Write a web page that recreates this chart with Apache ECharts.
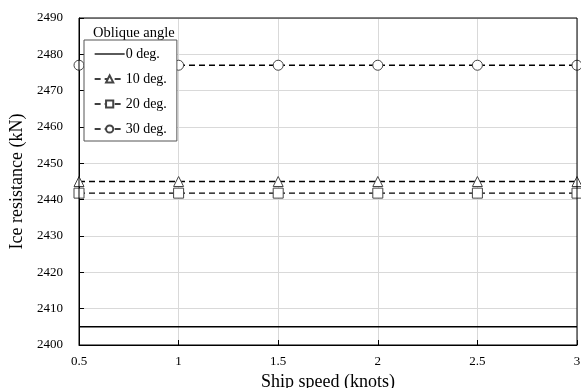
<!DOCTYPE html>
<html>
<head>
<meta charset="utf-8">
<script src="https://cdn.jsdelivr.net/npm/echarts@6/dist/echarts.min.js"></script>
<style>html,body{margin:0;padding:0;background:#fff}#c{width:581px;height:388px}</style>
</head>
<body>
<div id="c"></div>
<script>
var speeds = [0.5, 1, 1.5, 2, 2.5, 3];
var deg0 = [2405, 2405, 2405, 2405, 2405, 2405];
var deg10 = [2445, 2445, 2445, 2445, 2445, 2445];
var deg20 = [2441.8, 2441.8, 2441.8, 2441.8, 2441.8, 2441.8];
var deg30 = [2477, 2477, 2477, 2477, 2477, 2477];
var seriesNames = ['0 deg.', '10 deg.', '20 deg.', '30 deg.'];

function pairs(v){ return speeds.map(function(s,i){return [s, v[i]];}); }
var font = 'Liberation Serif, Times New Roman, serif';
var chart = echarts.init(document.getElementById('c'));
function mk(name, vals, symbol, dashed){
  return {
    name: name, type: 'line', data: pairs(vals),
    symbol: symbol, symbolSize: 10, showSymbol: symbol !== 'none',
    lineStyle: {color: '#000', width: dashed ? 1.4 : 1.5, type: dashed ? [6,4] : 'solid'},
    itemStyle: {color: '#fff', borderColor: '#444', borderWidth: 1},
    emphasis: {disabled: true}, animation: false, z: 3
  };
}
chart.setOption({
  animation: false,
  backgroundColor: '#fff',
  title: {text: 'Oblique angle', left: 88, top: 21, textStyle: {fontFamily: font, fontSize: 14.5, fontWeight: 'normal', color: '#000'}},
  legend: {
    orient: 'vertical', left: 84, top: 40, itemWidth: 30, itemHeight: 9, itemGap: 11,
    padding: [7, 10, 5, 10], borderColor: '#555', borderWidth: 1, backgroundColor: '#fff',
    textStyle: {fontFamily: font, fontSize: 14, color: '#000', padding: [0,0,0,-4]},
    data: [
      {name: seriesNames[0], itemStyle: {color: 'transparent', borderColor: 'transparent', borderWidth: 0}},
      {name: seriesNames[1]}, {name: seriesNames[2]}, {name: seriesNames[3]}
    ],
    lineStyle: {width: 1.3},
    z: 10
  },
  grid: {left: 79, right: 4, top: 18, bottom: 43, show: false, outerBoundsMode: 'none', containLabel: false},
  xAxis: {
    type: 'value', min: 0.5, max: 3, interval: 0.5,
    name: 'Ship speed (knots)', nameLocation: 'middle', nameGap: 23,
    nameTextStyle: {fontFamily: font, fontSize: 18, color: '#000'},
    axisLine: {onZero: false, lineStyle: {color: '#000', width: 1}},
    axisTick: {inside: true, length: 5, lineStyle: {color: '#000'}},
    axisLabel: {fontFamily: font, fontSize: 13, color: '#000', margin: 10},
    splitLine: {show: true, lineStyle: {color: '#d9d9d9', width: 1}}
  },
  yAxis: {
    type: 'value', min: 2400, max: 2490, interval: 10,
    name: 'Ice resistance (kN)', nameLocation: 'middle', nameGap: 51,
    nameTextStyle: {fontFamily: font, fontSize: 18, color: '#000'},
    axisLine: {show: true, lineStyle: {color: '#000', width: 1}},
    axisTick: {inside: true, length: 5, lineStyle: {color: '#000'}},
    axisLabel: {fontFamily: font, fontSize: 13, color: '#000', margin: 16, formatter: function(v){return String(v);}},
    splitLine: {show: true, lineStyle: {color: '#d9d9d9', width: 1}}
  },
  graphic: [{type: 'rect', shape: {x: 79, y: 18, width: 498, height: 327}, style: {fill: 'none', stroke: '#000', lineWidth: 1}, z: 5, silent: true}],
  series: [
    mk('0 deg.', deg0, 'none', false),
    mk('10 deg.', deg10, 'triangle', true),
    mk('20 deg.', deg20, 'rect', true),
    mk('30 deg.', deg30, 'circle', true)
  ]
});
</script>
</body>
</html>
